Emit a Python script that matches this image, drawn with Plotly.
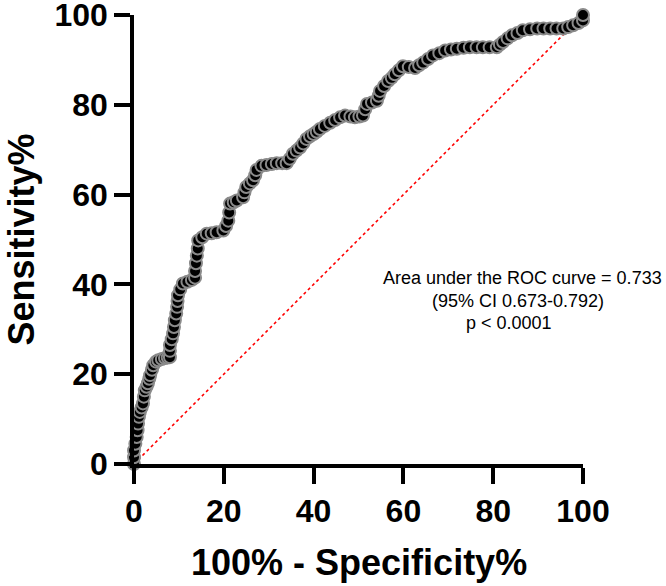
import plotly.graph_objects as go

# 100% - Specificity% (x) and Sensitivity% (y)
fpr = [0, 0, 0, 0.3, 0.6, 0.8, 0.9, 1.1, 1.3, 1.7, 2, 2.2, 2.4, 2.8, 3.1, 3.4, 3.6, 4, 4.3, 4.9,
       5.4, 6.2, 6.9, 7.5, 8, 8, 8, 8.4, 8.7, 8.9, 9.1, 9.4, 9.6, 9.7, 9.8, 10.3, 10.9, 11.9, 12.9, 13.6,
       13.6, 13.8, 14, 14.2, 14.3, 15.2, 16.2, 17.3, 18.4, 19.9, 20.5, 21, 21.2, 21.4, 22.2, 22.9, 24.3, 24.6, 25, 25.8,
       26.5, 27, 27.3, 28.4, 29.5, 30.7, 31.8, 33, 34, 34.7, 35.4, 36.2, 37, 37.7, 38.4, 39.2, 40, 40.7, 41.4, 42.5,
       43.7, 44.8, 45.9, 47, 48.2, 49.2, 50.2, 51, 51.5, 51.9, 53, 54.1, 54.5, 54.8, 55.7, 56.6, 57.4, 58.1, 59, 59.9,
       61.2, 62.6, 63.5, 64.4, 65.5, 66.6, 68, 69.3, 70.6, 71.9, 73.4, 74.8, 76.3, 77.7, 79.2, 80.8, 81.5, 82.2, 83.2, 84.2,
       85.4, 86.6, 88.2, 89.8, 91.2, 92.7, 94.1, 95.6, 96.7, 97.8, 99, 100, 100]
tpr = [0, 1.5, 3, 4.5, 6, 7.5, 9, 10.5, 11.6, 12.6, 13.5, 15, 16.4, 17.2, 18, 19, 19.8, 21, 22, 22.8,
       23.1, 23.4, 23.6, 23.7, 23.8, 25.2, 26.5, 27.8, 29.1, 30.5, 32, 33.5, 35, 36.3, 37.6, 38.9, 40.2, 40.6, 41, 41.5,
       43, 44.7, 46.4, 48, 49.8, 50.5, 51.3, 51.4, 51.6, 52, 53, 54.2, 56, 58, 58.3, 58.7, 59.4, 60.5, 61.7, 62.5,
       63.2, 64.3, 65.5, 66.4, 66.6, 66.8, 67, 67, 67, 68, 69.1, 69.8, 70.5, 71.4, 72.4, 73, 73.5, 74, 74.6, 75.3,
       76, 76.6, 77.2, 77.6, 77.4, 77.2, 77.4, 77.6, 79, 80.2, 80.5, 80.9, 82, 83.1, 84.2, 85.3, 86, 86.8, 87.7, 88.6,
       88.4, 88.2, 88.8, 89.4, 90.2, 91, 91.5, 92.1, 92.3, 92.5, 92.7, 92.8, 92.8, 92.8, 92.8, 92.8, 93.4, 94, 94.8, 95.5,
       96, 96.6, 96.8, 97, 97, 97, 97, 97, 97.3, 97.7, 98.2, 98.8, 100]

ref_x = [0, 100]
ref_y = [0, 100]
tick_vals = [0, 20, 40, 60, 80, 100]
tick_text = ["0", "20", "40", "60", "80", "100"]
annot_lines = ["Area under the ROC curve = 0.733", "(95% CI 0.673-0.792)", "p < 0.0001"]
annot_x = [86.5, 85.5, 83.5]
annot_y = [41.5, 36.4, 31.3]

FONT = "Liberation Sans, Arial, sans-serif"

fig = go.Figure()
fig.add_trace(go.Scatter(
    x=ref_x, y=ref_y, mode="lines",
    line=dict(color="#ff0000", width=1.6, dash="dot"),
    cliponaxis=False, showlegend=False, hoverinfo="skip"))
fig.add_trace(go.Scatter(
    x=fpr, y=tpr, mode="lines+markers",
    line=dict(color="black", width=3),
    marker=dict(size=12, color="black", line=dict(color="#8a8a8a", width=2)),
    cliponaxis=False, showlegend=False))

for txt, ax_, ay_ in zip(annot_lines, annot_x, annot_y):
    fig.add_annotation(
        x=ax_, y=ay_, xref="x", yref="y",
        text=txt, showarrow=False,
        xanchor="center", yanchor="middle",
        font=dict(family=FONT, size=18, color="black"))

axis_common = dict(
    range=[-0.0001, 100.0001], tickvals=tick_vals, ticktext=tick_text,
    showgrid=False, zeroline=False, automargin=False,
    showline=True, linecolor="black", linewidth=3.5,
    ticks="outside", ticklen=16, tickwidth=3.5, tickcolor="black",
    ticklabeloverflow="allow",
    tickfont=dict(family=FONT, size=32, color="black", weight="bold"),
)
fig.update_xaxes(**axis_common)
fig.update_yaxes(**axis_common)

fig.add_annotation(
    xref="paper", yref="paper", x=0.5, y=0, yshift=-98,
    text="100% - Specificity%", showarrow=False,
    xanchor="center", yanchor="middle",
    font=dict(family=FONT, size=36, color="black", weight="bold"))
fig.add_annotation(
    xref="paper", yref="paper", x=0, y=0.5, xshift=-113,
    text="Sensitivity%", showarrow=False, textangle=-90,
    xanchor="center", yanchor="middle",
    font=dict(family=FONT, size=36, color="black", weight="bold"))

fig.update_layout(
    width=666, height=586,
    margin=dict(l=134, r=83, t=15, b=122),
    plot_bgcolor="white", paper_bgcolor="white",
)

fig.write_html("out.html")
